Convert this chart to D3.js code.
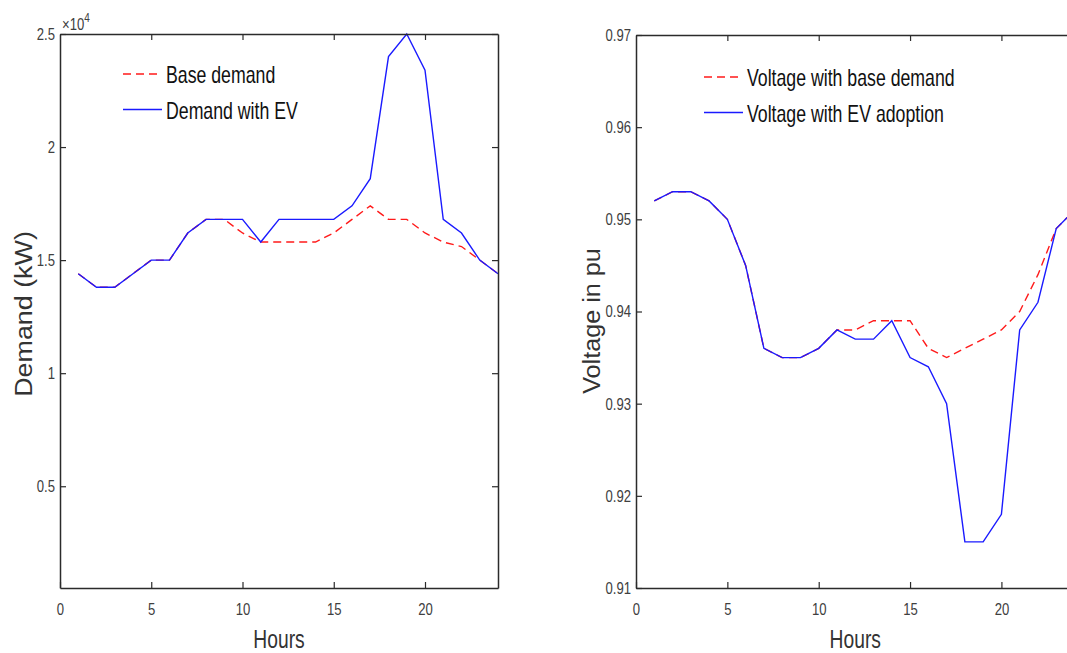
<!DOCTYPE html>
<html>
<head>
<meta charset="utf-8">
<script src="https://cdn.jsdelivr.net/npm/d3@7"></script>
<style>
	body { margin: 0; background: #fff; }
	svg { display: block; font-family: 'Liberation Sans', Arial, sans-serif; }
	.domain { stroke: #2b2b2b; stroke-width: 1.5; }
	.tick line { stroke: #2b2b2b; stroke-width: 1.2; }
</style>
</head>
<body>
<div id="main-content"></div>
<script>
'use strict'

// values
const hours = [1, 2, 3, 4, 5, 6, 7, 8, 9, 10, 11, 12, 13, 14, 15, 16, 17, 18, 19, 20, 21, 22, 23, 24]
const baseDemand = [14400, 13800, 13800, 14400, 15000, 15000, 16200, 16800, 16800, 16200, 15800, 15800,
	15800, 15800, 16200, 16800, 17400, 16800, 16800, 16200, 15800, 15600, 15000, 14400]
const evDemand = [14400, 13800, 13800, 14400, 15000, 15000, 16200, 16800, 16800, 16800, 15800, 16800,
	16800, 16800, 16800, 17400, 18600, 24000, 25000, 23400, 16800, 16200, 15000, 14400]
const baseVoltage = [0.952, 0.953, 0.953, 0.952, 0.950, 0.945, 0.936, 0.935, 0.935, 0.936, 0.938, 0.938,
	0.939, 0.939, 0.939, 0.936, 0.935, 0.936, 0.937, 0.938, 0.940, 0.944, 0.949, 0.951]
const evVoltage = [0.952, 0.953, 0.953, 0.952, 0.950, 0.945, 0.936, 0.935, 0.935, 0.936, 0.938, 0.937,
	0.937, 0.939, 0.935, 0.934, 0.930, 0.915, 0.915, 0.918, 0.938, 0.941, 0.949, 0.951]

const hourTicks = [0, 5, 10, 15, 20]
const demandTicks = [5000, 10000, 15000, 20000, 25000]
const demandTickLabels = ['0.5', '1', '1.5', '2', '2.5']
const voltageTicks = [0.91, 0.92, 0.93, 0.94, 0.95, 0.96, 0.97]
const voltageTickLabels = ['0.91', '0.92', '0.93', '0.94', '0.95', '0.96', '0.97']

const width = 1067,
		height = 653
const sx = 0.77 // the picture is squeezed sideways

const svg = d3.select('#main-content').append('svg')
	.attr('width', width)
	.attr('height', height)

const squeeze = (sel, k) => {
	sel.each(function() {
		const t = d3.select(this)
		const x = +t.attr('x') || 0
		t.attr('x', x / k).attr('transform', `scale(${k},1)`)
	})
}

const drawPanel = (p) => {
	const x = d3.scaleLinear().domain([0, 24]).range([p.left, p.right])
	const y = d3.scaleLinear().domain(p.yDomain).range([p.bottom, p.top])

	const g = svg.append('g')

	// lines, red under blue
	const line = d3.line()
		.x((d, i) => x(hours[i]))
		.y(d => y(d))

	g.append('path')
		.datum(p.base)
		.attr('fill', 'none')
		.attr('stroke', '#ff1a1a')
		.attr('stroke-width', 1.4)
		.attr('stroke-dasharray', '8,5')
		.attr('d', line)

	g.append('path')
		.datum(p.ev)
		.attr('fill', 'none')
		.attr('stroke', '#1a1aff')
		.attr('stroke-width', 1.4)
		.attr('d', line)

	// box axes, ticks inward
	const bottom = g.append('g')
		.attr('transform', `translate(0,${p.bottom})`)
		.call(d3.axisBottom(x).tickValues(hourTicks).tickSizeInner(-6).tickSizeOuter(0).tickPadding(15))
	bottom.selectAll('text').attr('font-size', 17).attr('fill', '#404040')
	squeeze(bottom.selectAll('text'), sx)

	g.append('g')
		.attr('transform', `translate(0,${p.top})`)
		.call(d3.axisTop(x).tickValues(hourTicks.filter(d => d > 0)).tickSizeInner(-6).tickSizeOuter(0).tickFormat(''))

	const left = g.append('g')
		.attr('transform', `translate(${p.left},0)`)
		.call(d3.axisLeft(y).tickValues(p.yTicks).tickSizeInner(-6).tickSizeOuter(0).tickPadding(5)
			.tickFormat((d, i) => p.yTickLabels[i]))
	left.selectAll('text').attr('font-size', 17).attr('fill', '#404040')
	squeeze(left.selectAll('text'), sx)

	g.append('g')
		.attr('transform', `translate(${p.right},0)`)
		.call(d3.axisRight(y).tickValues(p.yTicks).tickSizeInner(-6).tickSizeOuter(0).tickFormat(''))

	// axis titles
	g.append('text')
		.attr('transform', `translate(${x(12)},648) scale(${sx},1)`)
		.attr('text-anchor', 'middle')
		.attr('font-size', 25)
		.attr('fill', '#333')
		.text('Hours')

	g.append('text')
		.attr('transform', `translate(${p.yLabelX},${p.yLabelY}) rotate(-90) scale(${p.yLabelStretch},1)`)
		.attr('text-anchor', 'middle')
		.attr('font-size', 24)
		.attr('fill', '#333')
		.text(p.yLabel)

	// legend
	const legend = g.append('g')
		.attr('transform', `translate(${p.left + p.legendDx},${p.top + p.legendDy})`)
	const items = [
		{ name: p.names[0], color: '#ff1a1a', dash: '8,5' },
		{ name: p.names[1], color: '#1a1aff', dash: null }
	]
	const row = legend.selectAll('g')
		.data(items)
		.enter().append('g')
			.attr('transform', (d, i) => `translate(0,${i * 35.5})`)
	row.append('line')
		.attr('x1', 0).attr('x2', 39)
		.attr('stroke', d => d.color)
		.attr('stroke-width', 1.4)
		.attr('stroke-dasharray', d => d.dash)
	row.append('text')
		.attr('transform', `translate(43,9) scale(${sx},1)`)
		.attr('font-size', 23)
		.attr('fill', '#111')
		.text(d => d.name)

	return g
}

const leftPanel = drawPanel({
	left: 60, right: 498, top: 34, bottom: 588,
	yDomain: [500, 25000], yTicks: demandTicks, yTickLabels: demandTickLabels,
	base: baseDemand, ev: evDemand,
	yLabel: 'Demand (kW)', yLabelX: 32, yLabelY: 314, yLabelStretch: 1.12,
	names: ['Base demand', 'Demand with EV'],
	legendDx: 63, legendDy: 40
})

// exponent over the demand axis
const expo = leftPanel.append('text')
	.attr('transform', `translate(62,30) scale(${sx},1)`)
	.attr('font-size', 17)
	.attr('fill', '#404040')
expo.append('tspan').text('\u00d710')
expo.append('tspan').attr('font-size', 13).attr('dy', -8).text('4')

drawPanel({
	left: 636, right: 1074.5, top: 35, bottom: 588,
	yDomain: [0.91, 0.97], yTicks: voltageTicks, yTickLabels: voltageTickLabels,
	base: baseVoltage, ev: evVoltage,
	yLabel: 'Voltage in pu', yLabelX: 600, yLabelY: 321, yLabelStretch: 1.05,
	names: ['Voltage with base demand', 'Voltage with EV adoption'],
	legendDx: 68, legendDy: 42
})
</script>
</body>
</html>
